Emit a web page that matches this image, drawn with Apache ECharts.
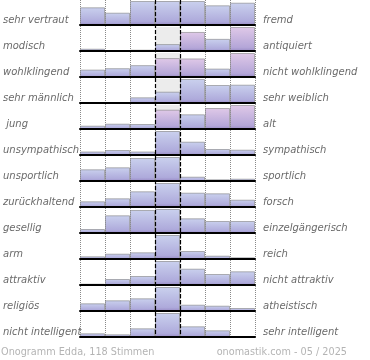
<!DOCTYPE html>
<html>
<head>
<meta charset="utf-8">
<script src="https://cdn.jsdelivr.net/npm/echarts@6/dist/echarts.min.js"></script>
<style>html,body{margin:0;padding:0;background:#fff}#c{width:370px;height:360px}</style>
</head>
<body>
<div id="c"></div>
<script>
// ---- data ----
const leftLabels = ['sehr vertraut','modisch','wohlklingend','sehr männlich',' jung','unsympathisch','unsportlich','zurückhaltend','gesellig','arm','attraktiv','religiös','nicht intelligent'];
const rightLabels = ['fremd','antiquiert','nicht wohlklingend','sehr weiblich','alt','sympathisch','sportlich','forsch','einzelgängerisch','reich','nicht attraktiv','atheistisch','sehr intelligent'];
const scale = ['1','2','3','4','5','6','7'];
const vertrautFremd        = [17.7, 12.3, 24, 24, 24, 19.7, 22.3];
const modischAntiquiert    = [2.3, 0, 1.3, 7, 19.3, 12.3, 24.3];
const wohlklingend         = [7.3, 8.7, 11.7, 18.7, 18.3, 8.3, 23.7];
const maennlichWeiblich    = [0, 0, 5.7, 11.3, 24, 18, 18.3];
const jungAlt              = [3.3, 5.3, 5, 19.3, 14.7, 21, 24];
const sympathisch          = [3.5, 5, 3.5, 24, 13.3, 6, 5.3];
const sportlich            = [11.7, 13.7, 23, 24, 4.3, 1.7, 2.3];
const zurueckForsch        = [5.7, 8.7, 15.7, 24, 14.3, 13.7, 7.3];
const geselligEinzel       = [4, 17.7, 23, 24, 14.7, 12, 12];
const armReich             = [2.7, 5.3, 6.7, 24, 8, 3.3, 1.7];
const attraktiv            = [1.3, 6, 9, 24, 16.3, 11, 13.7];
const religioesAtheist     = [7.7, 10.7, 12.7, 24, 6.3, 5.3, 3];
const intelligent          = [3.7, 2.7, 8.7, 24, 10.7, 6.7, 0.7];
const rows = [vertrautFremd, modischAntiquiert, wohlklingend, maennlichWeiblich, jungAlt, sympathisch, sportlich, zurueckForsch, geselligEinzel, armReich, attraktiv, religioesAtheist, intelligent];
const footLeft = 'Onogramm Edda, 118 Stimmen';
const footRight = 'onomastik.com - 05 / 2025';

// ---- style ----
const pinkBars = {1: [4, 6], 2: [3, 4, 6], 4: [3, 5, 6]};
const grad = (top, bottom) => new echarts.graphic.LinearGradient(0, 0, 0, 1, [
  {offset: 0, color: top}, {offset: 0.85, color: bottom}, {offset: 1, color: '#9a8cc6'}]);
const blue = () => grad('#cad1ee', '#aeaadb');
const pink = () => grad('#e0c9e8', '#b4a6d8');
const FONT = 'DejaVu Sans';
const ROW = 26, BAR_H = 24, LEFT = 80, WIDTH = 175;

const grid = [], xAxis = [], yAxis = [], series = [];
rows.forEach((vals, i) => {
  const max = Math.max(...vals);
  grid.push({left: LEFT, width: WIDTH, top: 1 + ROW * i, height: BAR_H});
  xAxis.push({type: 'category', gridIndex: i, data: scale, z: 4,
    axisLine: {lineStyle: {color: '#000', width: 2}}, axisTick: {show: false}, axisLabel: {show: false}, splitLine: {show: false}});
  yAxis.push({type: 'value', gridIndex: i, min: 0, max: max, show: false, splitLine: {show: false}});
  series.push({type: 'bar', xAxisIndex: i, yAxisIndex: i, silent: true, barWidth: '100%', barGap: '-100%',
    data: scale.map((_, j) => j === 3 ? max : null), itemStyle: {color: '#ececec'}, z: 1});
  const pk = pinkBars[i] || [];
  series.push({type: 'bar', xAxisIndex: i, yAxisIndex: i, silent: true, barWidth: '100%', barGap: '-100%', z: 2,
    data: vals.map((v, j) => ({value: v, itemStyle: {color: pk.includes(j) ? pink() : blue()}})),
    itemStyle: {borderColor: 'rgba(120,120,120,0.55)', borderWidth: 1}});
});
// vertical grid lines
const gL = grid.length;
grid.push({left: LEFT, width: WIDTH, top: 0, height: ROW * 13 - 1});
xAxis.push({type: 'value', gridIndex: gL, min: 0, max: 7, interval: 1, z: 0,
  axisLine: {show: false}, axisTick: {show: false}, axisLabel: {show: false},
  splitLine: {show: true, lineStyle: {color: '#8a8a8a', width: 1, type: [1, 1]}}});
xAxis.push({type: 'value', gridIndex: gL, min: 0, max: 7, interval: 1, z: 10,
  axisLine: {show: false}, axisTick: {show: false}, axisLabel: {show: false},
  splitLine: {show: true, lineStyle: {color: ['rgba(0,0,0,0)','rgba(0,0,0,0)','rgba(0,0,0,0)','#000','#000','rgba(0,0,0,0)','rgba(0,0,0,0)','rgba(0,0,0,0)'], width: 1.2, type: [4, 2]}}});
yAxis.push({type: 'value', gridIndex: gL, min: 0, max: 1, show: false, splitLine: {show: false}});
// labels
const gT = grid.length;
grid.push({left: LEFT, width: WIDTH, top: 7, height: ROW * 13});
xAxis.push({type: 'value', gridIndex: gT, show: false, min: 0, max: 1});
const lab = {color: '#6a6a6a', fontSize: 10, fontStyle: 'italic', fontFamily: FONT};
yAxis.push({type: 'category', gridIndex: gT, inverse: true, position: 'left', data: leftLabels,
  axisLine: {show: false}, axisTick: {show: false}, splitLine: {show: false},
  axisLabel: Object.assign({margin: 80, align: 'left', interval: 0}, lab)});
yAxis.push({type: 'category', gridIndex: gT, inverse: true, position: 'right', data: rightLabels,
  axisLine: {show: false}, axisTick: {show: false}, splitLine: {show: false},
  axisLabel: Object.assign({margin: 8, align: 'left', interval: 0}, lab)});

const chart = echarts.init(document.getElementById('c'), null, {renderer: 'canvas'});
chart.setOption({
  animation: false,
  backgroundColor: '#fff',
  title: [
    {text: footLeft, left: 1, top: 347, padding: 0, textStyle: {fontSize: 9.7, color: '#b4b4b4', fontWeight: 'normal', fontFamily: FONT}},
    {text: footRight, right: 23, top: 347, padding: 0, textStyle: {fontSize: 9.7, color: '#b4b4b4', fontWeight: 'normal', fontFamily: FONT}}
  ],
  grid, xAxis, yAxis, series
});
</script>
</body>
</html>
